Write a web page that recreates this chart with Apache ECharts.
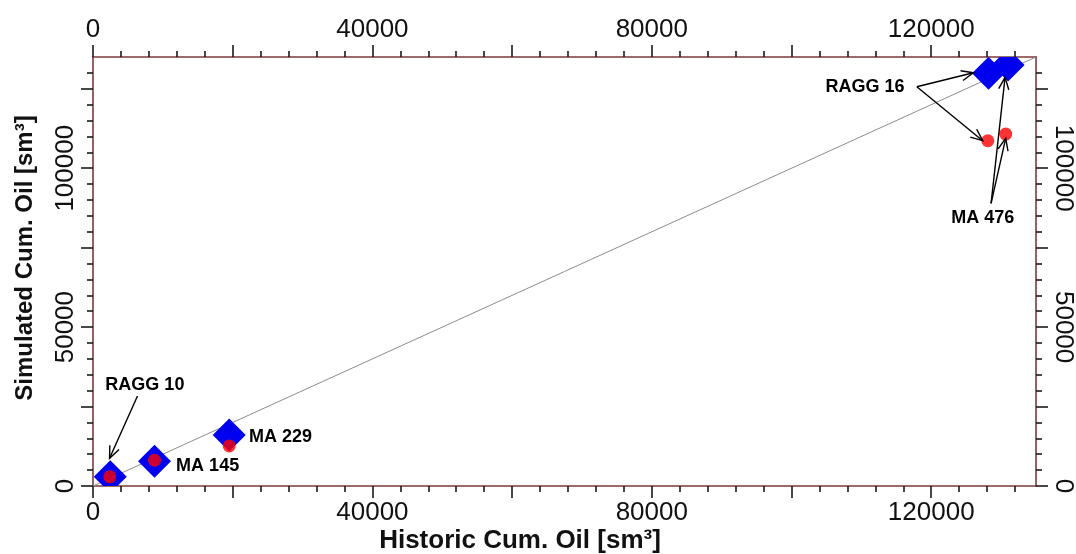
<!DOCTYPE html>
<html><head><meta charset="utf-8">
<script src="https://cdn.jsdelivr.net/npm/echarts@6/dist/echarts.min.js"></script>
<style>html,body{margin:0;padding:0;background:#fff}#c{width:1076px;height:554px}</style>
</head><body><div id="c"></div>
<script>
// ---- data ----
const wells = ['RAGG 10', 'MA 145', 'MA 229', 'RAGG 16', 'MA 476'];
const diamondX = [2470, 8800, 19500, 128200, 131000];
const diamondY = [2930, 7770, 16050, 129860, 132500];
const dotX = [2400, 8800, 19500, 128100, 130660];
const dotY = [2900, 8100, 12600, 108650, 110760];
const axisMin = 0, axisMax = 135000;
const xLabelValues = [0, 40000, 80000, 120000];
const xMajorTicks = [0, 20000, 40000, 60000, 80000, 100000, 120000];
const yLabelValues = [0, 50000, 100000];
const yMajorTicks = [0, 25000, 50000, 75000, 100000, 125000];
const xMinorStep = 4000, yMinorStep = 5000;
// annotations (data coordinates)
const labelText = ['RAGG 10', 'MA 145', 'MA 229', 'RAGG 16', 'MA 476'];
const labelX = [1770, 11900, 22330, 104860, 122860];
const labelY = [31780, 6390, 15510, 125650, 84240];
const arrowFromX = [6370, 117940, 117940, 128570, 128570];
const arrowFromY = [28320, 125650, 125650, 88960, 88960];
const arrowToX = [2370, 126040, 127370, 130570, 130660];
const arrowToY = [8720, 130050, 108650, 128600, 109410];
const xTitle = 'Historic Cum. Oil [sm³]';
const yTitle = 'Simulated Cum. Oil [sm³]';

function minors(step, majors) {
  const out = [];
  for (let v = step; v < axisMax; v += step) if (majors.indexOf(v) < 0) out.push(v);
  return out;
}
const xMinorTicks = minors(xMinorStep, xMajorTicks);
const yMinorTicks = minors(yMinorStep, yMajorTicks);

const FONT = '"Liberation Sans", Arial, sans-serif';
const AXIS_COLOR = '#7d3a3a';
const TICK_COLOR = '#1a1a1a';

function axis(pos, major, isY) {
  const majorTicks = isY ? yMajorTicks : xMajorTicks;
  const minorTicks = isY ? yMinorTicks : xMinorTicks;
  const labels = isY ? yLabelValues : xLabelValues;
  let rotate = 0;
  if (pos === 'left') rotate = 90;
  if (pos === 'right') rotate = -90;
  return {
    type: 'value', position: pos, min: axisMin, max: axisMax,
    axisLine: { show: major, onZero: false, lineStyle: { color: AXIS_COLOR, width: 1.6 } },
    axisTick: major
      ? { show: true, customValues: majorTicks, length: 12, lineStyle: { color: TICK_COLOR, width: 1.6 } }
      : { show: true, customValues: minorTicks, length: 6, lineStyle: { color: TICK_COLOR, width: 1.6 } },
    axisLabel: major
      ? { show: true, customValues: labels, rotate: rotate, margin: 14, fontSize: 26, fontFamily: FONT, color: '#111',
          formatter: function (v) { return String(v); } }
      : { show: false },
    splitLine: { show: false }
  };
}

const chart = echarts.init(document.getElementById('c'), null, { renderer: 'canvas' });
const option = {
  animation: false,
  backgroundColor: '#fff',
  grid: { left: 93, right: 39, top: 57, bottom: 68, containLabel: false },
  xAxis: [axis('bottom', true, false), axis('bottom', false, false), axis('top', true, false), axis('top', false, false)],
  yAxis: [axis('left', true, true), axis('left', false, true), axis('right', true, true), axis('right', false, true)],
  graphic: [
    { type: 'text', style: { text: xTitle, font: 'bold 26px ' + FONT, fill: '#111', align: 'center', verticalAlign: 'middle' }, x: 520, y: 541 },
    { type: 'text', style: { text: yTitle, font: 'bold 24px ' + FONT, fill: '#111', align: 'center', verticalAlign: 'middle' }, x: 25, y: 258, rotation: Math.PI / 2 }
  ],
  series: [
    {
      type: 'line', data: [[axisMin, axisMin], [axisMax, axisMax]], symbol: 'none', silent: true,
      lineStyle: { color: '#8c8c8c', width: 1 }, z: 1
    },
    {
      type: 'custom', name: 'Simulated', clip: true, z: 2,
      data: wells.map((w, i) => [diamondX[i], diamondY[i]]),
      encode: { x: 0, y: 1 },
      renderItem: function (params, api) {
        const p = api.coord([api.value(0), api.value(1)]);
        const h = 16.5;
        return { type: 'polygon', shape: { points: [[p[0], p[1] - h], [p[0] + h, p[1]], [p[0], p[1] + h], [p[0] - h, p[1]]] }, style: { fill: '#0000f0' } };
      }
    },
    {
      type: 'scatter', name: 'Historic', z: 3,
      data: wells.map((w, i) => [dotX[i], dotY[i]]),
      symbol: 'circle', symbolSize: 13, itemStyle: { color: '#ff0000' }
    },
    {
      type: 'custom', name: 'arrows', z: 4, clip: false, silent: true,
      data: arrowFromX.map((v, i) => [v, arrowFromY[i], arrowToX[i], arrowToY[i]]),
      encode: { x: [0, 2], y: [1, 3] },
      renderItem: function (params, api) {
        const a = api.coord([api.value(0), api.value(1)]);
        const b = api.coord([api.value(2), api.value(3)]);
        const ang = Math.atan2(b[1] - a[1], b[0] - a[0]);
        const L = 13, w = 0.4;
        const p1 = [b[0] - L * Math.cos(ang - w), b[1] - L * Math.sin(ang - w)];
        const p2 = [b[0] - L * Math.cos(ang + w), b[1] - L * Math.sin(ang + w)];
        return {
          type: 'group', children: [
            { type: 'line', shape: { x1: a[0], y1: a[1], x2: b[0], y2: b[1] }, style: { stroke: '#000', lineWidth: 1.4 } },
            { type: 'polyline', shape: { points: [p1, b, p2] }, style: { stroke: '#000', lineWidth: 1.4, fill: null } }
          ]
        };
      }
    },
    {
      type: 'custom', name: 'labels', z: 5, clip: false, silent: true,
      data: labelX.map((v, i) => [v, labelY[i]]),
      encode: { x: 0, y: 1 },
      renderItem: function (params, api) {
        const p = api.coord([api.value(0), api.value(1)]);
        return { type: 'text', x: p[0], y: p[1], style: { text: labelText[params.dataIndex], font: 'bold 18px ' + FONT, fill: '#000', align: 'left', verticalAlign: 'middle' } };
      }
    }
  ]
};
chart.setOption(option);
</script>
</body></html>
